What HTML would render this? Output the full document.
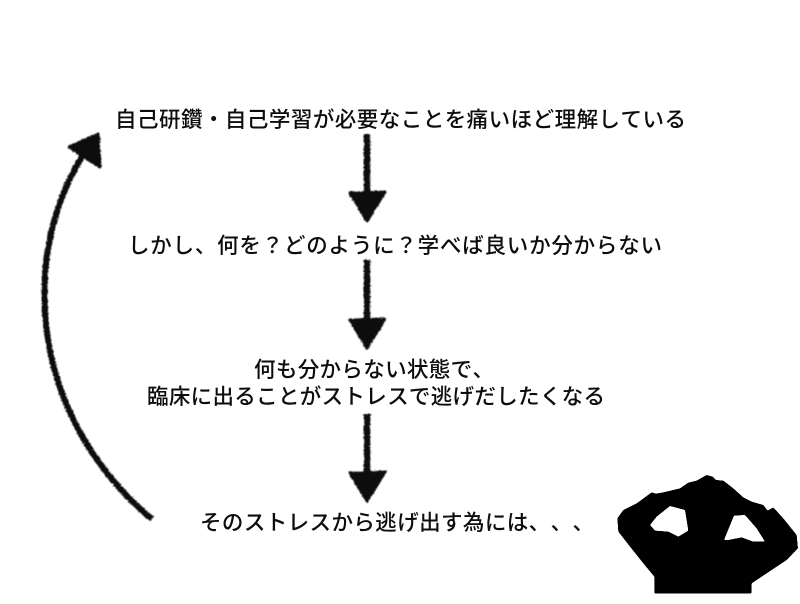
<!DOCTYPE html>
<html lang="ja">
<head>
<meta charset="utf-8">
<style>
html,body{margin:0;padding:0;background:#fff;}
svg{display:block;}
text{font-family:"Liberation Sans","Noto Sans CJK JP",sans-serif;font-size:21.5px;font-weight:500;fill:#0a0a0a;text-spacing-trim:space-all;font-kerning:none;}
</style>
</head>
<body>
<svg width="800" height="604" viewBox="0 0 800 604" xmlns="http://www.w3.org/2000/svg">
<defs>
<filter id="rough" x="-20%" y="-20%" width="140%" height="140%">
<feTurbulence type="fractalNoise" baseFrequency="0.55" numOctaves="2" seed="4" result="n"/>
<feDisplacementMap in="SourceGraphic" in2="n" scale="3.2" xChannelSelector="R" yChannelSelector="G"/>
<feGaussianBlur stdDeviation="0.45"/>
</filter>
<filter id="soft" x="-5%" y="-5%" width="110%" height="110%">
<feGaussianBlur stdDeviation="0.35"/>
</filter>
<filter id="round" x="-5%" y="-5%" width="110%" height="110%">
<feGaussianBlur stdDeviation="1.6"/>
<feComponentTransfer><feFuncA type="linear" slope="6" intercept="-2.5"/></feComponentTransfer>
</filter>
</defs>
<rect width="800" height="604" fill="#fff"/>
<g filter="url(#soft)">
<text x="115" y="127" textLength="571" lengthAdjust="spacing">自己研鑽・自己学習が必要なことを痛いほど理解している</text>
<text x="128" y="253" textLength="534" lengthAdjust="spacing">しかし、何を？どのように？学べば良いか分からない</text>
<text x="254" y="377" textLength="240" lengthAdjust="spacing">何も分からない状態で、</text>
<text x="147" y="404" textLength="458" lengthAdjust="spacing">臨床に出ることがストレスで逃げだしたくなる</text>
<text x="200" y="530" textLength="394" lengthAdjust="spacing">そのストレスから逃げ出す為には、、、</text>
</g>

<g fill="#111" stroke="#111" stroke-linejoin="round" filter="url(#rough)">
<path d="M367 134V192" stroke-width="6.5" fill="none"/>
<path d="M350 193L385 192L367 221Z" stroke-width="3"/>
<path d="M367 260V320" stroke-width="6.5" fill="none"/>
<path d="M350 320L385 319L367 348Z" stroke-width="3"/>
<path d="M367 414V474" stroke-width="6.5" fill="none"/>
<path d="M350 473L385 472L367 501Z" stroke-width="3"/>
<path d="M152 519C106 481 61 420 48 340C39 280 46 215 83 155" stroke-width="6" fill="none"/>
<path d="M69 147L98 134L100 167Z" stroke-width="3"/>
</g>

<g transform="translate(600 460) scale(.3333)" filter="url(#round)">
<path fill="#000" fill-rule="evenodd" d="M52 175L70 150L110 130L155 97L168 101L190 97L240 85L265 68L290 62L320 45L338 50L348 60L370 62L400 85L430 112L455 125L490 135L503 152L520 142L550 175L590 225L594 265L560 300L500 340L455 370L455 400L163 400L163 350L130 310L90 260L55 215Z
M150 195L170 170L210 138L255 150L265 212L235 230L205 215L165 212Z
M372 240L402 167L435 165L470 205L495 245L460 245L425 232L385 240Z"/>
</g>
</svg>
</body>
</html>
